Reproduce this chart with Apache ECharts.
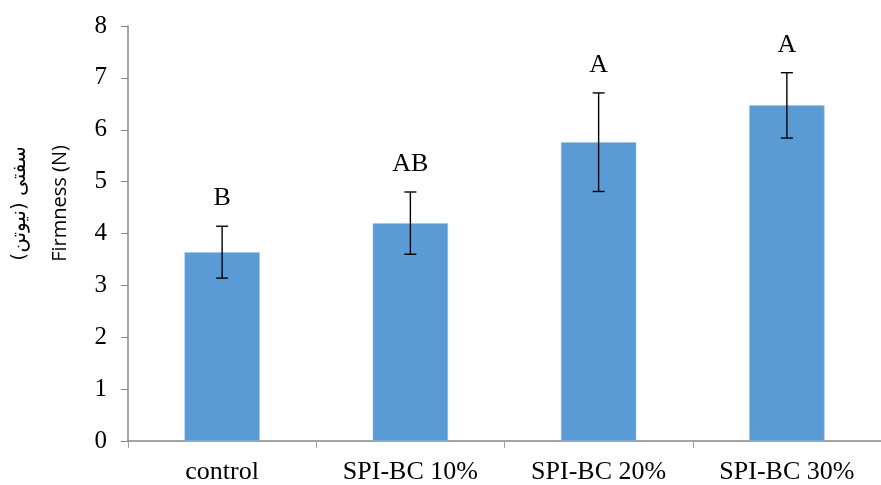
<!DOCTYPE html>
<html>
<head>
<meta charset="utf-8">
<script src="https://cdn.jsdelivr.net/npm/echarts@6/dist/echarts.min.js"></script>
<style>
  html, body { margin: 0; padding: 0; background: #fff; }
  #chart { width: 881px; height: 485px; }
</style>
</head>
<body>
<div id="chart"></div>
<script>
const categories = ['control', 'SPI-BC 10%', 'SPI-BC 20%', 'SPI-BC 30%']
const firmness = [3.64, 4.2, 5.76, 6.47]
const errors = [0.5, 0.6, 0.95, 0.63]
const letters = ['B', 'AB', 'A', 'A']
const yTicks = [0, 8, 1] // min, max, interval

const chart = echarts.init(document.getElementById('chart'))

const option = {
  animation: false,
  grid: {
    left: 128,
    right: -7,
    top: 26,
    bottom: 43,
  },
  xAxis: {
    type: 'category',
    data: categories,
    axisLine: { lineStyle: { color: '#868686', width: 1.5 } },
    axisTick: { show: true, length: 7, lineStyle: { color: '#a0a0a0' } },
    axisLabel: {
      color: '#000',
      fontFamily: 'Liberation Serif',
      fontSize: 26,
      margin: 18,
    },
  },
  yAxis: {
    type: 'value',
    min: yTicks[0],
    max: yTicks[1],
    interval: yTicks[2],
    splitLine: { show: false },
    axisLine: { show: true, lineStyle: { color: '#868686', width: 1.5 } },
    axisTick: { show: true, length: 7, lineStyle: { color: '#868686' } },
    axisLabel: {
      color: '#000',
      fontFamily: 'Liberation Serif',
      fontSize: 25,
      margin: 21,
    },
    name: '{fa|سفتی (نیوتن)}\n{en|Firmness (N)}',
    nameLocation: 'middle',
    nameRotate: 90,
    nameGap: 48,
    nameTextStyle: {
      padding: [0, 0, 0, 60],
      rich: {
        fa: { fontFamily: 'DejaVu Sans', fontSize: 20, color: '#000', lineHeight: 40 },
        en: { fontFamily: 'Open Sans', fontSize: 20, color: '#000', lineHeight: 40 },
      },
    },
  },
  series: [
    {
      type: 'bar',
      data: firmness,
      barWidth: '40%',
      itemStyle: { color: '#5B9BD5', borderColor: '#9cc3e6', borderWidth: 0.5 },
    },
    {
      type: 'custom',
      data: firmness.map((v, i) => [i, v - errors[i], v + errors[i]]),
      renderItem(params, api) {
        const i = api.value(0)
        const lo = api.coord([i, api.value(1)])
        const hi = api.coord([i, api.value(2)])
        const cap = 6
        const style = { stroke: '#000', lineWidth: 1.4 }
        return {
          type: 'group',
          children: [
            { type: 'line', shape: { x1: hi[0], y1: hi[1], x2: lo[0], y2: lo[1] }, style },
            { type: 'line', shape: { x1: hi[0] - cap, y1: hi[1], x2: hi[0] + cap, y2: hi[1] }, style },
            { type: 'line', shape: { x1: lo[0] - cap, y1: lo[1], x2: lo[0] + cap, y2: lo[1] }, style },
            {
              type: 'text',
              x: hi[0],
              y: hi[1] - 15,
              style: {
                text: letters[i],
                fill: '#000',
                font: '26px "Liberation Serif"',
                align: 'center',
                verticalAlign: 'bottom',
              },
            },
          ],
        }
      },
      z: 10,
    },
  ],
}

chart.setOption(option)
</script>
</body>
</html>
